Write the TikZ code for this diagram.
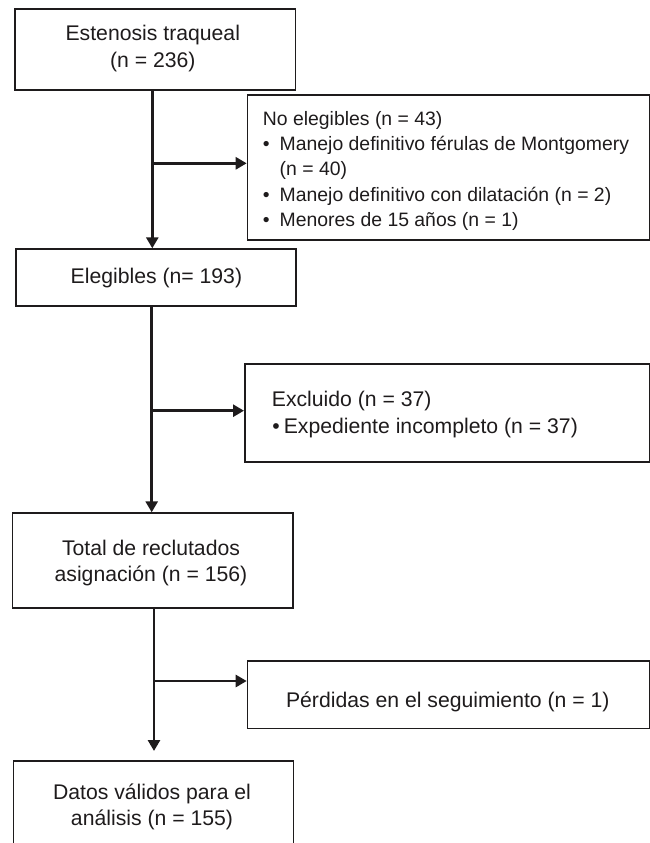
\documentclass[tikz,border=0pt]{standalone}
\usepackage{fontspec}
\setmainfont{Liberation Sans}
\usetikzlibrary{arrows.meta}
\definecolor{ink}{RGB}{30,27,28}
\tikzset{
  box/.style={draw=ink, line width=1.7pt, inner sep=0pt, anchor=north west},
  txt/.style={inner sep=0pt, text=ink, font=\fontsize{21.2}{26.5}\selectfont},
  smalltxt/.style={inner sep=0pt, text=ink, font=\fontsize{19.4}{25.3}\selectfont},
  conn/.style={draw=ink, line width=2.7pt, -{Triangle[length=11pt,width=12pt]}}
}
\begin{document}
\begin{tikzpicture}[x=1pt,y=-1pt]
\useasboundingbox (0,0) rectangle (650,843);
\clip (0,0) rectangle (650,843);
% boxes
\node[box, minimum width=280.7pt, minimum height=81pt] (b1) at (14,8.3) {};
\node[box, minimum width=401.8pt, minimum height=145pt] (b2) at (246.7,94.3) {};
\node[box, minimum width=279.7pt, minimum height=56.7pt] (b3) at (15.3,248.3) {};
\node[box, minimum width=404.7pt, minimum height=97.7pt] (b4) at (244,363.3) {};
\node[box, minimum width=280.6pt, minimum height=95pt] (b5) at (11.7,512.3) {};
\node[box, minimum width=401.8pt, minimum height=67.7pt] (b6) at (246.7,660) {};
\node[box, minimum width=280pt, minimum height=95pt] (b7) at (12.7,760) {};
% texts
\node[txt, anchor=north] (t1) at (152.8,22.15) {\begin{tabular}{@{}c@{}}Estenosis traqueal\\(n = 236)\end{tabular}};
\node[smalltxt, anchor=north west] (t2) at (262.7,107.3) {\begin{tabular}{@{}l@{\hspace{10pt}}l@{}}\multicolumn{2}{@{}l@{}}{No elegibles (n = 43)}\\
\textbullet & Manejo definitivo férulas de Montgomery\\
 & (n = 40)\\
\textbullet & Manejo definitivo con dilatación (n = 2)\\
\textbullet & Menores de 15 años (n = 1)\end{tabular}};
\node[txt, anchor=north] (t3) at (156.4,264.75) {\begin{tabular}{@{}c@{}}Elegibles (n= 193)\end{tabular}};
\node[txt, font=\fontsize{21.2}{27}\selectfont, anchor=north west] (t4) at (271.7,387.8) {\begin{tabular}{@{}l@{}}Excluido (n = 37)\\
\hspace*{0.5pt}\textbullet\hspace{4pt}Expediente incompleto (n = 37)\end{tabular}};
\node[txt, anchor=north] (t5) at (151,536.45) {\begin{tabular}{@{}c@{}}Total de reclutados\\asignación (n = 156)\end{tabular}};
\node[txt, anchor=north] (t6) at (447.8,688.45) {\begin{tabular}{@{}c@{}}Pérdidas en el seguimiento (n = 1)\end{tabular}};
\node[txt, font=\fontsize{21.2}{25.5}\selectfont, anchor=north] (t7) at (152,781.5) {\begin{tabular}{@{}c@{}}Datos válidos para el\\análisis (n = 155)\end{tabular}};
% connectors
\coordinate (j1) at (152.3,163.3);
\coordinate (j2) at (151.7,410.7);
\coordinate (j3) at (154,681);
\draw[conn] (b1.south -| j1) -- (b3.north -| j1);
\draw[conn] (j1) -- (j1 -| b2.west);
\draw[conn] (b3.south -| j2) -- (b5.north -| j2);
\draw[conn] (j2) -- (j2 -| b4.west);
\draw[conn, shorten >=9pt] (b5.south -| j3) -- (b7.north -| j3);
\draw[conn] (j3) -- (j3 -| b6.west);
\end{tikzpicture}
\end{document}
